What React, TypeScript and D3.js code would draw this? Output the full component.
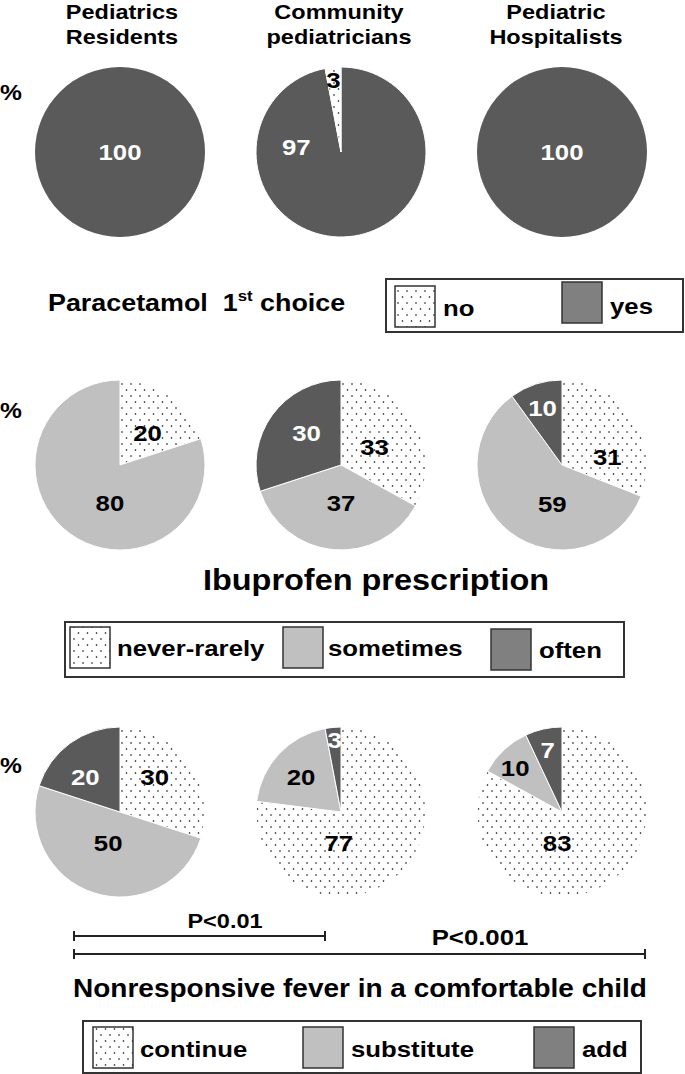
import React from "react";
import * as d3 from "d3";

// ---------- data ----------
const groups = [
  ["Pediatrics", "Residents"],
  ["Community", "pediatricians"],
  ["Pediatric", "Hospitalists"],
];

// Paracetamol 1st choice (drawn clockwise: yes, then no)
const paraCategories = ["no", "yes"];
const paraNo = [0, 3, 0];
const paraYes = [100, 97, 100];

// Ibuprofen prescription
const ibuCategories = ["never-rarely", "sometimes", "often"];
const ibuNever = [20, 33, 31];
const ibuSometimes = [80, 37, 59];
const ibuOften = [0, 30, 10];

// Nonresponsive fever
const feverCategories = ["continue", "substitute", "add"];
const feverContinue = [30, 77, 83];
const feverSubstitute = [50, 20, 10];
const feverAdd = [20, 3, 7];

// p-values
const pLabels = ["P<0.01", "P<0.001"];

// label placement (angle in degrees clockwise from top, radius) per slice
const paraLabelPlace = [
  [[0, 0], [0, 0]],
  [[276, 45], [354, 72]],
  [[0, 0], [0, 0]],
];
const ibuLabelPlace = [
  [[41, 42], [195, 39], [0, 0]],
  [[62, 38], [180, 38], [313, 47]],
  [[80, 46], [194, 40], [341, 60]],
];
const feverLabelPlace = [
  [[45, 49], [201, 33], [315, 49]],
  [[184, 31], [311, 53], [355, 72]],
  [[189, 31], [313, 64], [347, 64]],
];

// ---------- style ----------
const FONT = "'Liberation Sans', Arial, Helvetica, sans-serif";
const DARK = "#5a5a5a";
const LIGHT = "#c0c0c0";
const LEG_DARK = "#808080";
const BORDER = "#333";
const R = 85;
const SX = 1.12; // horizontal stretch of the reference's lettering

const x = d3.scalePoint<number>().domain([0, 1, 2]).range([120, 562]);
const rowY = [152, 465, 812];

function T({ x, y, size, anchor = "start", fill = "#000", baseline, children }: any) {
  return (
    <text
      transform={`translate(${x},${y}) scale(${SX},1)`}
      textAnchor={anchor}
      dominantBaseline={baseline}
      fontFamily={FONT}
      fontWeight="bold"
      fontSize={size}
      fill={fill}
    >
      {children}
    </text>
  );
}

type Slice = { key: string; value: number; fill: string; labelColor: string };

function Pie({ cx, cy, slices, places }: { cx: number; cy: number; slices: Slice[]; places: number[][] }) {
  const pie = d3.pie<Slice>().sort(null).value((d) => d.value);
  const arcs = pie(slices);
  const arc = d3.arc<d3.PieArcDatum<Slice>>().innerRadius(0).outerRadius(R);
  const nonZero = arcs.filter((a) => a.data.value > 0).length;
  return (
    <g transform={`translate(${cx},${cy})`}>
      {arcs.map((a, i) =>
        a.data.value > 0 ? (
          <path key={i} d={arc(a) || ""} fill={a.data.fill} stroke={nonZero > 1 ? "#fff" : "none"} strokeWidth={1} />
        ) : null
      )}
      {arcs.map((a, i) => {
        if (a.data.value <= 0) return null;
        const [deg, r] = places[i];
        const ang = (deg * Math.PI) / 180;
        return (
          <T
            key={"t" + i}
            x={r * Math.sin(ang)}
            y={-r * Math.cos(ang)}
            size={23}
            anchor="middle"
            baseline="central"
            fill={a.data.labelColor}
          >
            {a.data.value}
          </T>
        );
      })}
    </g>
  );
}

function LegendItem({ x0, y0, fill, label, tx, ty }: any) {
  return (
    <g>
      <rect x={x0} y={y0} width={40} height={41} fill={fill} stroke={BORDER} strokeWidth={1.5} />
      <T x={tx} y={ty} size={23}>
        {label}
      </T>
    </g>
  );
}

export default function App() {
  const dots = "url(#dots)";
  const paraFill: Record<string, [string, string]> = { no: [dots, "#000"], yes: [DARK, "#fff"] };
  const catFill = [[dots, "#000"], [LIGHT, "#000"], [DARK, "#fff"]];
  const headerX = [122, 339, 556];
  const pctY = [100, 418, 773];

  return (
    <svg
      width={685}
      height={1074}
      viewBox="0 0 685 1074"
      style={{ position: "absolute", left: 0, top: 0, background: "#fff" }}
    >
      <defs>
        <pattern id="dots" width={9} height={12} patternUnits="userSpaceOnUse">
          <rect width={9} height={12} fill="#fff" />
          <circle cx={2} cy={3} r={0.8} fill="#000" />
          <circle cx={6.5} cy={9} r={0.8} fill="#000" />
        </pattern>
      </defs>

      {/* headers */}
      {groups.map((g, i) => (
        <g key={i}>
          <T x={headerX[i]} y={19} size={21} anchor="middle">{g[0]}</T>
          <T x={headerX[i]} y={44} size={21} anchor="middle">{g[1]}</T>
        </g>
      ))}

      {/* % marks */}
      {pctY.map((y, i) => (
        <T key={i} x={11} y={y} size={22} anchor="middle">%</T>
      ))}

      {/* Row 1: Paracetamol */}
      {groups.map((_, i) => {
        const slices: Slice[] = [
          { key: "yes", value: paraYes[i], fill: paraFill.yes[0], labelColor: paraFill.yes[1] },
          { key: "no", value: paraNo[i], fill: paraFill.no[0], labelColor: paraFill.no[1] },
        ];
        return <Pie key={i} cx={x(i)!} cy={rowY[0]} slices={slices} places={paraLabelPlace[i]} />;
      })}

      {/* Row 2: Ibuprofen */}
      {groups.map((_, i) => {
        const vals = [ibuNever[i], ibuSometimes[i], ibuOften[i]];
        const slices: Slice[] = ibuCategories.map((c, j) => ({
          key: c,
          value: vals[j],
          fill: catFill[j][0],
          labelColor: catFill[j][1],
        }));
        return <Pie key={i} cx={x(i)!} cy={rowY[1]} slices={slices} places={ibuLabelPlace[i]} />;
      })}

      {/* Row 3: fever */}
      {groups.map((_, i) => {
        const vals = [feverContinue[i], feverSubstitute[i], feverAdd[i]];
        const slices: Slice[] = feverCategories.map((c, j) => ({
          key: c,
          value: vals[j],
          fill: catFill[j][0],
          labelColor: catFill[j][1],
        }));
        return <Pie key={i} cx={x(i)!} cy={rowY[2]} slices={slices} places={feverLabelPlace[i]} />;
      })}

      {/* Paracetamol title + legend */}
      <T x={48} y={311} size={24}>
        Paracetamol{"\u00a0\u00a0"}1
        <tspan dy={-10} fontSize={15}>st</tspan>
        <tspan dy={10}> choice</tspan>
      </T>
      <rect x={386} y={279} width={297} height={53} fill="none" stroke={BORDER} strokeWidth={2} />
      <LegendItem x0={395} y0={286} fill={dots} label={paraCategories[0]} tx={443} ty={316} />
      <LegendItem x0={562} y0={282} fill={LEG_DARK} label={paraCategories[1]} tx={610} ty={314} />

      {/* Ibuprofen title + legend */}
      <T x={376} y={590} size={29} anchor="middle">Ibuprofen prescription</T>
      <rect x={65} y={622} width={559} height={55} fill="none" stroke={BORDER} strokeWidth={2} />
      <LegendItem x0={70} y0={627} fill={dots} label={ibuCategories[0]} tx={117} ty={656} />
      <LegendItem x0={283} y0={627} fill={LIGHT} label={ibuCategories[1]} tx={328} ty={656} />
      <LegendItem x0={491} y0={629} fill={LEG_DARK} label={ibuCategories[2]} tx={539} ty={658} />

      {/* P-value brackets */}
      <g stroke="#222" strokeWidth={2}>
        <line x1={74} x2={325} y1={936} y2={936} />
        <line x1={74} x2={74} y1={931} y2={941} />
        <line x1={325} x2={325} y1={931} y2={941} />
        <line x1={74} x2={645} y1={954} y2={954} />
        <line x1={74} x2={74} y1={949} y2={959} />
        <line x1={645} x2={645} y1={949} y2={959} />
      </g>
      <T x={225} y={928} size={21} anchor="middle">{pLabels[0]}</T>
      <T x={480} y={945} size={23} anchor="middle">{pLabels[1]}</T>

      {/* Fever title + legend */}
      <T x={360} y={997} size={25} anchor="middle">Nonresponsive fever in a comfortable child</T>
      <rect x={83} y={1021} width={558} height={52} fill="none" stroke={BORDER} strokeWidth={2} />
      <LegendItem x0={93} y0={1027} fill={dots} label={feverCategories[0]} tx={140} ty={1057} />
      <LegendItem x0={303} y0={1027} fill={LIGHT} label={feverCategories[1]} tx={351} ty={1057} />
      <LegendItem x0={534} y0={1027} fill={LEG_DARK} label={feverCategories[2]} tx={582} ty={1057} />
    </svg>
  );
}
